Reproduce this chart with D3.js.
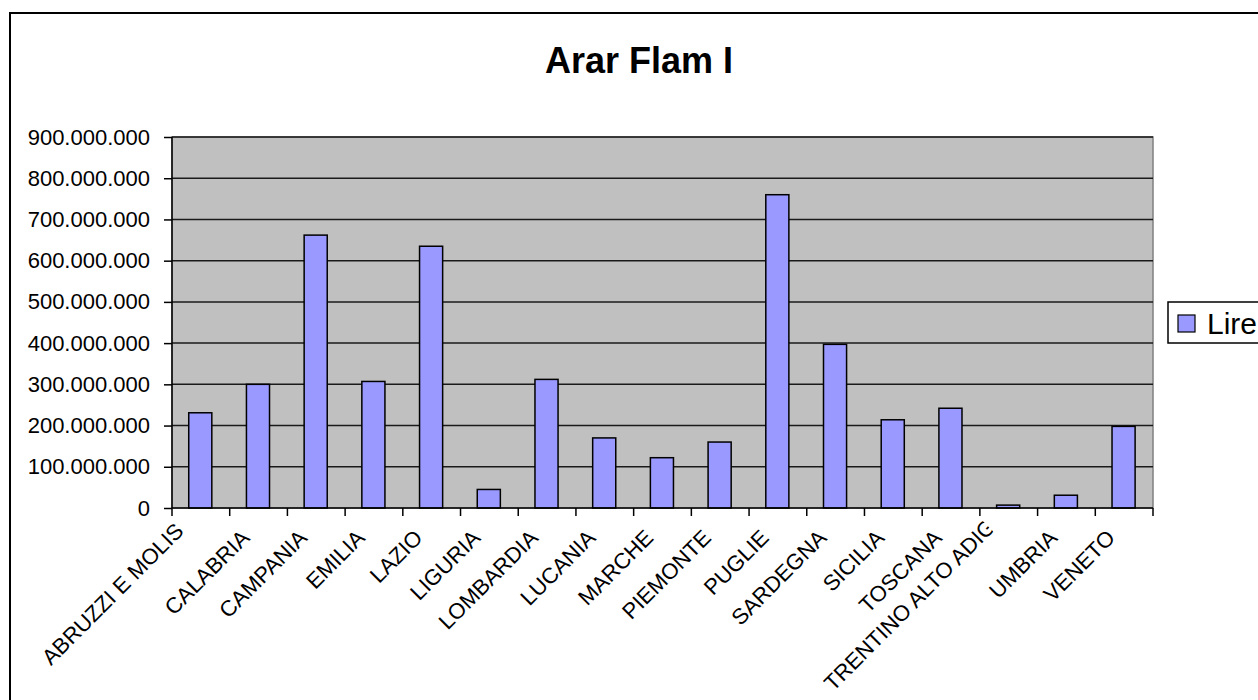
<!DOCTYPE html>
<html><head><meta charset="utf-8">
<script src="https://cdn.jsdelivr.net/npm/d3@7"></script>
<style>body{margin:0;background:#fff;} svg{display:block;} text{font-family:"Liberation Sans",Arial,sans-serif;}</style>
</head><body>
<svg id="c" width="1258" height="700"></svg>
<script>
const categories = ["ABRUZZI E MOLISE","CALABRIA","CAMPANIA","EMILIA","LAZIO","LIGURIA","LOMBARDIA","LUCANIA","MARCHE","PIEMONTE","PUGLIE","SARDEGNA","SICILIA","TOSCANA","TRENTINO ALTO ADIGE","UMBRIA","VENETO"];
const lire = [231000000,300000000,662000000,307000000,635000000,45000000,312000000,170000000,122000000,160000000,760000000,397000000,214000000,242000000,7000000,31000000,198000000];
const yTicks = [0,100000000,200000000,300000000,400000000,500000000,600000000,700000000,800000000,900000000];
const seriesName = "Lire";
const title = "Arar Flam I";

const svg = d3.select("#c");
const defs = svg.append("defs");
svg.append("rect").attr("x",10).attr("y",13).attr("width",1270).attr("height",700)
  .attr("fill","#fff").attr("stroke","#000").attr("stroke-width",2);

const L=172, R=1153, T=137, B=508;
const x = d3.scaleBand().domain(categories).range([L,R]).paddingInner(0).paddingOuter(0);
const y = d3.scaleLinear().domain([0,900000000]).range([B,T]);
const bw = x.bandwidth();

svg.append("rect").attr("x",L).attr("y",T).attr("width",R-L).attr("height",B-T)
  .attr("fill","#C0C0C0").attr("stroke","#808080").attr("stroke-width",1.5);

svg.append("g").selectAll("line").data(yTicks.filter(d=>d>0)).join("line")
  .attr("x1",L).attr("x2",R).attr("y1",d=>y(d)).attr("y2",d=>y(d))
  .attr("stroke","#1a1a1a").attr("stroke-width",1.5);

svg.append("g").selectAll("rect").data(lire).join("rect")
  .attr("x",(d,i)=>x(categories[i])+bw*0.29)
  .attr("width",bw*0.4)
  .attr("y",d=>y(d)).attr("height",d=>B-y(d))
  .attr("fill","#9999FF").attr("stroke","#000").attr("stroke-width",1.5);

const fmt = d=>d3.format(",")(d).replace(/,/g,".");
const ya = svg.append("g").attr("transform",`translate(${L},0)`)
  .call(d3.axisLeft(y).tickValues(yTicks).tickFormat(fmt).tickSize(8).tickPadding(14));
ya.select(".domain").attr("stroke","#000").attr("stroke-width",1.5).attr("d",`M0,${T}V${B}`);
ya.selectAll(".tick line").attr("stroke","#000").attr("stroke-width",1.5);
ya.selectAll("text").attr("font-size",22).attr("fill","#000").attr("font-family","Liberation Sans, Arial, sans-serif");

const bounds = categories.map(c=>x(c)).concat([R]);
svg.append("line").attr("x1",L).attr("x2",R).attr("y1",B).attr("y2",B).attr("stroke","#000").attr("stroke-width",1.5);
svg.append("g").selectAll("line").data(bounds).join("line")
  .attr("x1",d=>d).attr("x2",d=>d).attr("y1",B).attr("y2",B+8)
  .attr("stroke","#000").attr("stroke-width",1.5);

// category labels: rotated -45deg; labels too long for the room are cut (Excel-like)
const xMin = 51, yMax = 692, capH = 16, S = Math.SQRT1_2;
const lg = svg.append("g");
categories.forEach((d,i)=>{
  let ax = x(d)+bw/2-19, ay = 528;
  const g = lg.append("g");
  const t = g.append("text").text(d).attr("font-size",22).attr("dy","0.72em");
  const len = t.node().getComputedTextLength();
  const fits = (ax - S*(len-capH) >= xMin) && (ay + S*(len+capH) <= yMax);
  if(fits){
    t.attr("text-anchor","end").attr("x",0);
  } else {
    ax -= 7.5; ay -= 7.5;
    const maxLen = Math.min((ax-xMin)/S + capH, (yMax-ay)/S - capH);
    const id = "lc"+i;
    defs.append("clipPath").attr("id",id).append("rect")
      .attr("x",-maxLen).attr("y",-40).attr("width",maxLen).attr("height",80);
    t.attr("text-anchor","start").attr("x",-maxLen).attr("clip-path",`url(#${id})`);
  }
  g.attr("transform",`translate(${ax},${ay}) rotate(-45)`);
});

svg.append("text").attr("x",639).attr("y",72.7).attr("text-anchor","middle")
  .attr("font-size",36).attr("font-weight","bold").text(title);

svg.append("rect").attr("x",1168).attr("y",302).attr("width",120).attr("height",41)
  .attr("fill","#fff").attr("stroke","#000").attr("stroke-width",1.5);
svg.append("rect").attr("x",1178).attr("y",315).attr("width",17).attr("height",17)
  .attr("fill","#9999FF").attr("stroke","#000").attr("stroke-width",1.2);
svg.append("text").attr("x",1207).attr("y",334).attr("font-size",30).text(seriesName);
</script>
</body></html>
